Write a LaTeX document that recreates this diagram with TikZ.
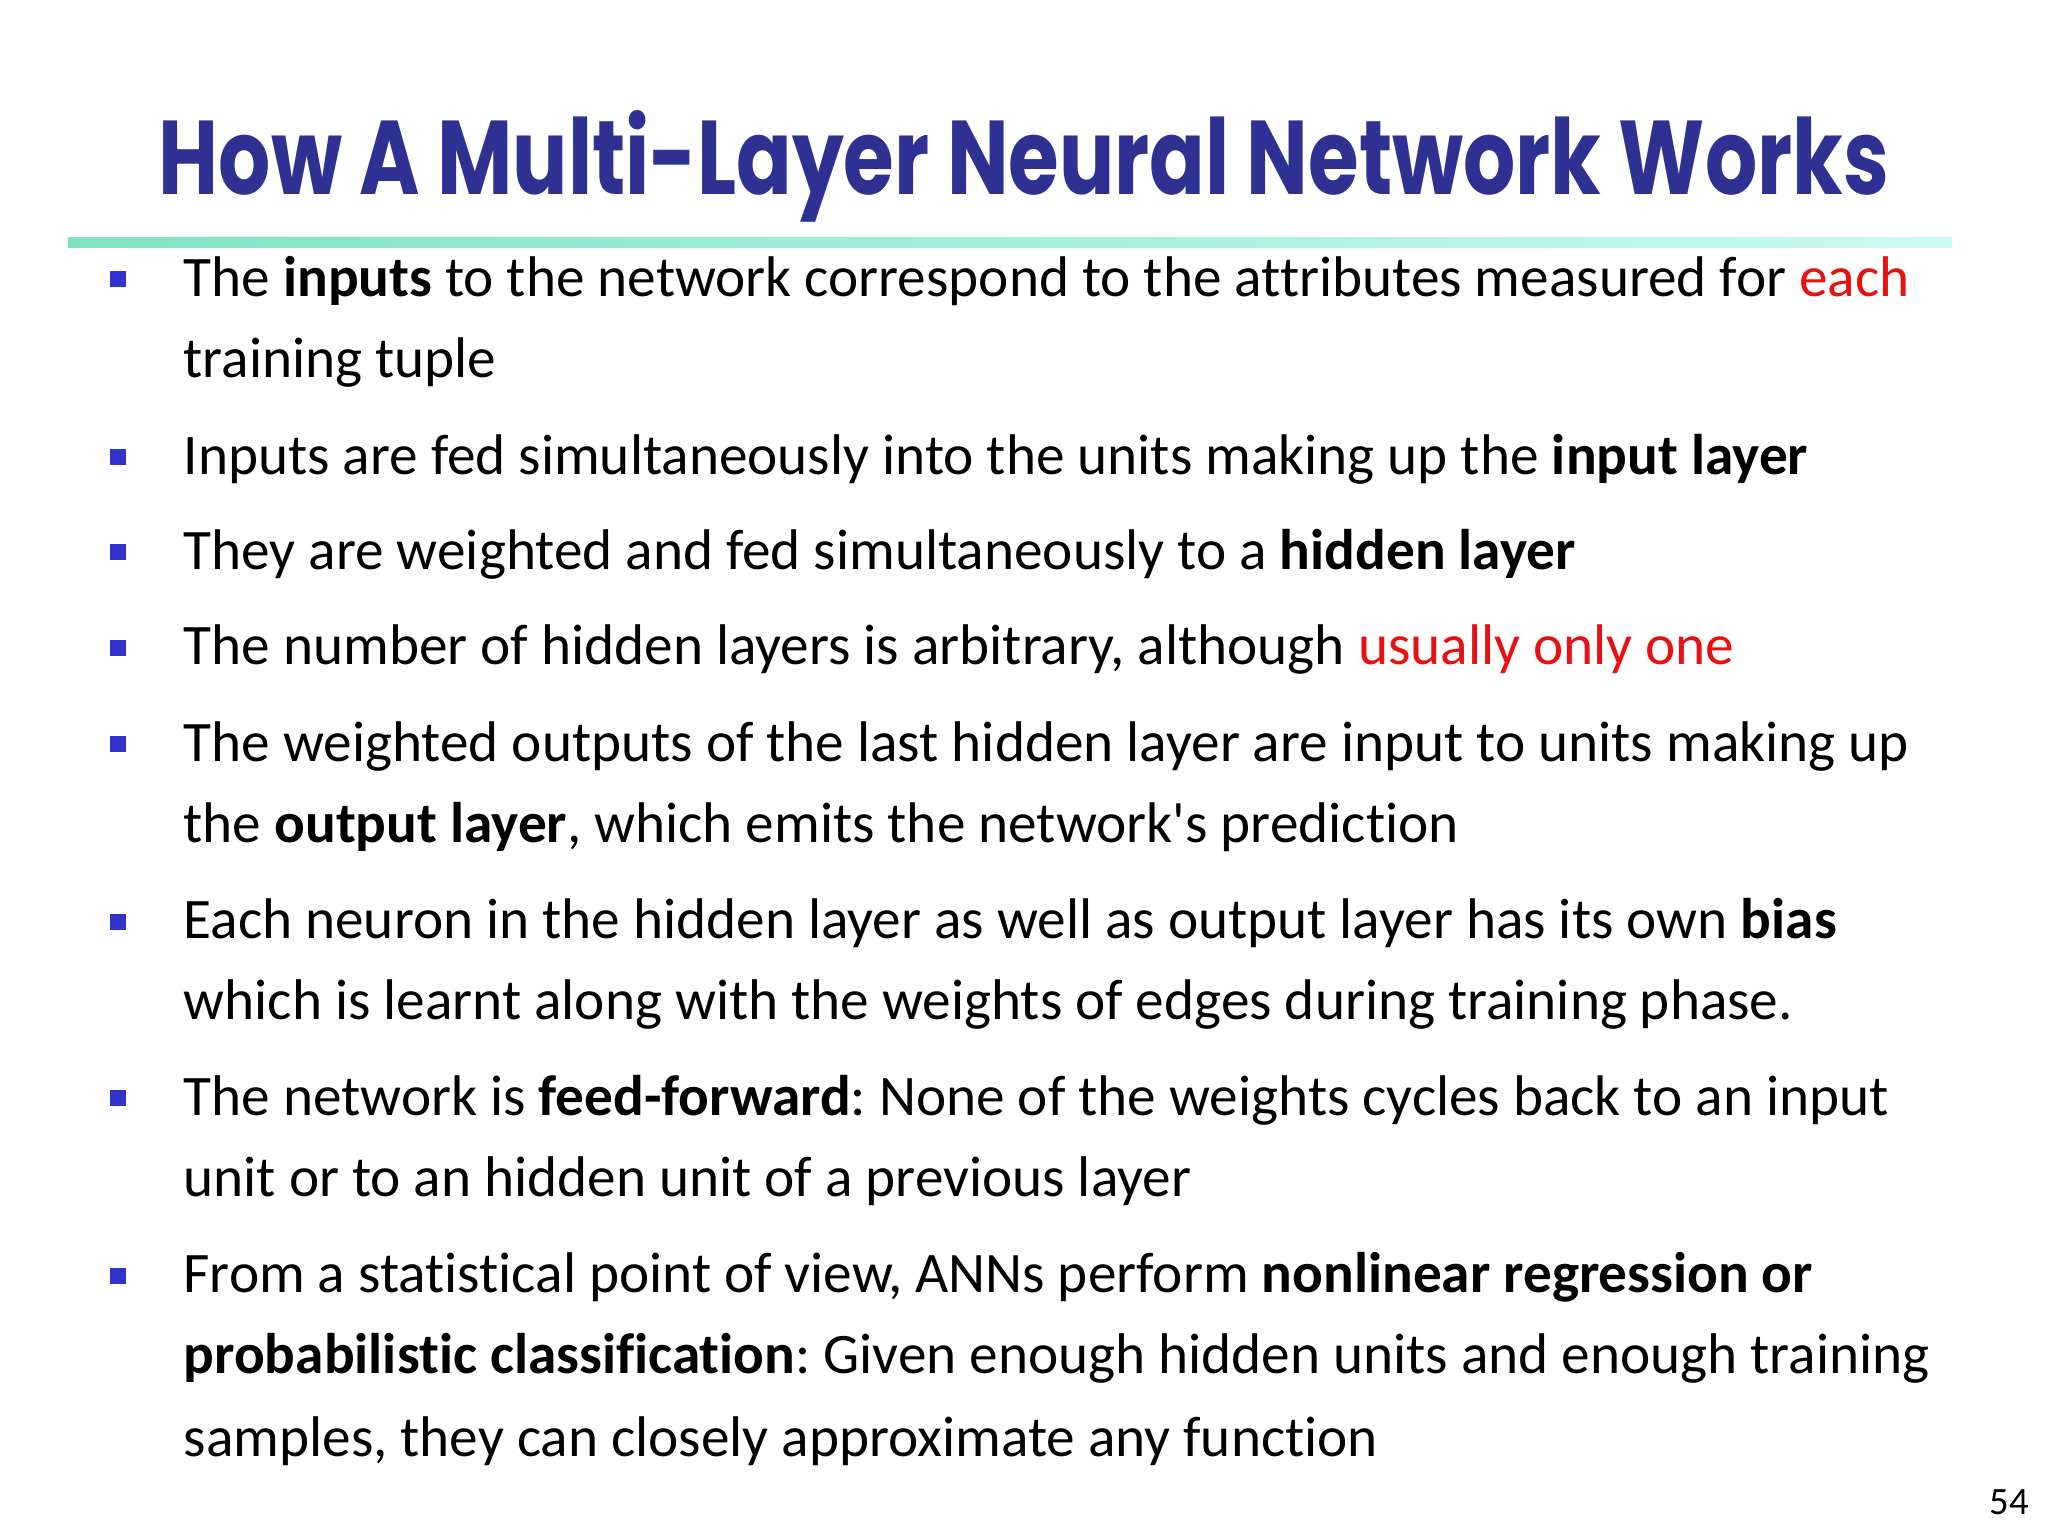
\documentclass[tikz,border=0pt]{standalone}
\usepackage{fontspec}
\setmainfont{Carlito}[Ligatures={NoCommon}]
\newfontfamily\titlefont{Poppins}
\usepackage{graphicx}
\definecolor{titleblue}{HTML}{2E3192}
\definecolor{bulletblue}{HTML}{3333CC}
\definecolor{myred}{HTML}{E81010}
\definecolor{lineA}{HTML}{7FE3C3}
\definecolor{lineB}{HTML}{C8FAF4}
\frenchspacing
\begin{document}
\begin{tikzpicture}[
  txt/.style={anchor=base west, inner sep=0pt, font=\fontsize{16.3}{20}\selectfont},
  bul/.style={fill=bulletblue, minimum size=0.16cm, inner sep=0pt}]
\useasboundingbox (0,0) rectangle (20.48,-15.36);
\fill[white] (0,0) rectangle (20.48,-15.36);
\node[inner sep=0pt, text=titleblue] (title) at (10.24,-1.66) {\resizebox{17.3cm}{0.84cm}{\titlefont\bfseries How A Multi-Layer Neural Network Works}};
\shade[left color=lineA, right color=lineB] (0.68,-2.38) rectangle (19.52,-2.48);
\coordinate (rule) at (10.24,-2.43);
\foreach \y/\n in {2.79/b1,4.57/b2,5.52/b3,6.48/b4,7.44/b5,9.22/b6,10.98/b7,12.76/b8}
  \node[bul] (\n) at (1.18,-\y) {};
\begin{scope}[yshift=-0.065cm]
\node[txt] (l1) at (1.83,-2.90) {The \textbf{inputs} to the network correspond to the attributes measured for \textcolor{myred}{each}};
\node[txt] (l2) at (1.83,-3.71) {training tuple};
\node[txt] (l3) at (1.83,-4.68) {Inputs are fed simultaneously into the units making up the \textbf{input layer}};
\node[txt] (l4) at (1.83,-5.63) {They are weighted and fed simultaneously to a \textbf{hidden layer}};
\node[txt] (l5) at (1.83,-6.58) {The number of hidden layers is arbitrary, although \textcolor{myred}{usually only one}};
\node[txt] (l6) at (1.83,-7.55) {The weighted outputs of the last hidden layer are input to units making up};
\node[txt] (l7) at (1.83,-8.36) {the \textbf{output layer}, which emits the network\textquotesingle s prediction};
\node[txt] (l8) at (1.83,-9.32) {Each neuron in the hidden layer as well as output layer has its own \textbf{bias}};
\node[txt] (l9) at (1.83,-10.13) {which is learnt along with the weights of edges during training phase.};
\node[txt] (l10) at (1.83,-11.09) {The network is \textbf{feed-forward}: None of the weights cycles back to an input};
\node[txt] (l11) at (1.83,-11.90) {unit or to an hidden unit of a previous layer};
\node[txt] (l12) at (1.83,-12.86) {From a statistical point of view, ANNs perform \textbf{nonlinear regression or}};
\node[txt] (l13) at (1.83,-13.67) {\textbf{probabilistic classification}: Given enough hidden units and enough training};
\node[txt] (l14) at (1.83,-14.50) {samples, they can closely approximate any function};
\end{scope}
\node[inner sep=0pt, font=\fontsize{11}{13}\selectfont] (pg) at (20.09,-15.02) {54};
\end{tikzpicture}
\end{document}
